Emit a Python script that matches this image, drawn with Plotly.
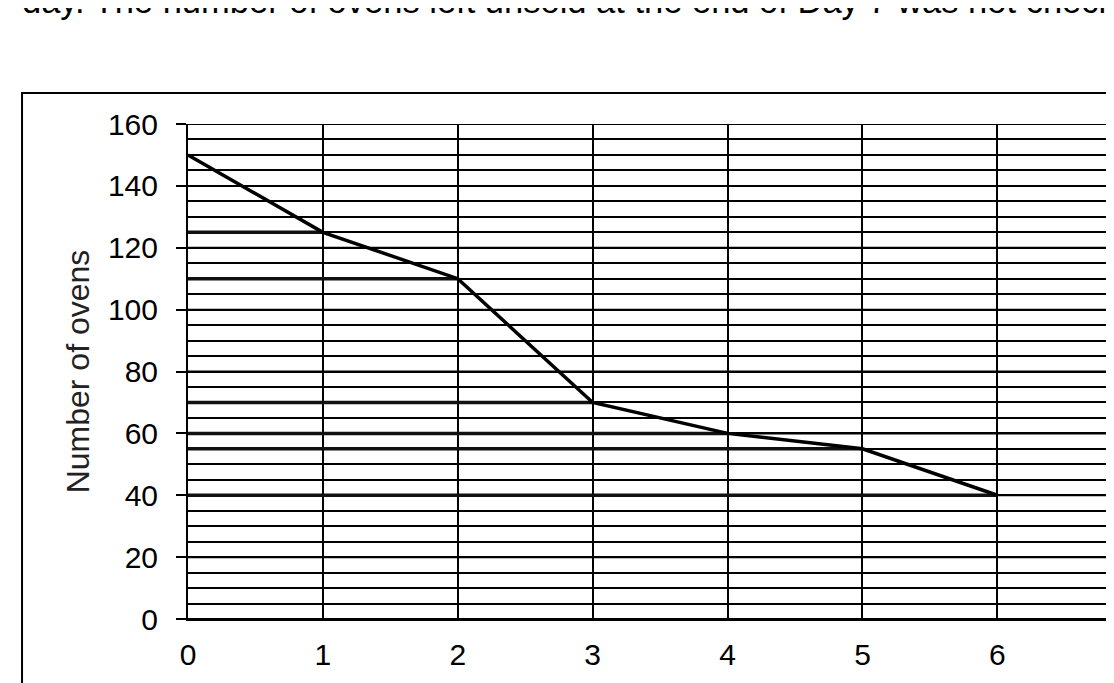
import plotly.graph_objects as go

# days and ovens left unsold
days = [0, 1, 2, 3, 4, 5, 6]
ovens_left = [150, 125, 110, 70, 60, 55, 40]

x_ticks = [0, 1, 2, 3, 4, 5, 6]
y_ticks = [0, 20, 40, 60, 80, 100, 120, 140, 160]

header_text = "day. The number of ovens left unsold at the end of Day 7 was not checked"

FONT = "Liberation Sans, Arial, sans-serif"

fig = go.Figure()

# hand-drawn reading lines: from each point (after day 0) back to the y axis
read_x, read_y = [], []
for d, v in zip(days[1:], ovens_left[1:]):
    read_x += [0, d, None]
    read_y += [v, v, None]

fig.add_trace(go.Scatter(
    x=read_x,
    y=read_y,
    mode="lines",
    line=dict(color="#111", width=3.5),
    showlegend=False,
    hoverinfo="skip",
))

fig.add_trace(go.Scatter(
    x=days,
    y=ovens_left,
    mode="lines",
    line=dict(color="black", width=3.5),
    showlegend=False,
    hoverinfo="x+y",
))

fig.update_xaxes(
    range=[0, 6.924],
    tickvals=x_ticks,
    ticks="",
    ticklabelstandoff=8,
    showgrid=True,
    gridcolor="black",
    gridwidth=2,
    showline=True,
    linecolor="black",
    linewidth=2,
    zeroline=False,
    tickfont=dict(size=30, color="black", family=FONT),
)

fig.update_yaxes(
    range=[0, 160],
    tickvals=y_ticks,
    ticks="outside",
    ticklen=10,
    tickwidth=2,
    tickcolor="black",
    ticklabelstandoff=12,
    showgrid=False,
    showline=True,
    linecolor="black",
    linewidth=2,
    zeroline=False,
    minor=dict(dtick=5, showgrid=True, gridcolor="black", gridwidth=2),
    tickfont=dict(size=30, color="black", family=FONT),
    title=dict(text="Number of ovens", standoff=9,
               font=dict(size=32, color="#222", family=FONT)),
)

# grid lines at the labelled values too (minor grid skips them)
for v in y_ticks:
    fig.add_hline(y=v, line=dict(color="black", width=2), layer="below")

# outer chart frame, cropped by the scan on the right and bottom
fig.add_shape(type="rect", xref="paper", yref="paper",
              x0=-0.1777, x1=1.2, y0=-0.3, y1=1.0626,
              line=dict(color="black", width=2), layer="below")

fig.add_annotation(
    text=header_text, xref="paper", yref="paper",
    x=-0.1795, y=1.249, xanchor="left", yanchor="middle",
    showarrow=False,
    font=dict(size=34.5, color="black", family=FONT),
)

fig.update_layout(
    width=1114,
    height=683,
    margin=dict(l=180, r=0, t=116, b=72, pad=0),
    paper_bgcolor="white",
    plot_bgcolor="white",
    font=dict(family=FONT, color="black"),
)

fig.write_html("out.html")
